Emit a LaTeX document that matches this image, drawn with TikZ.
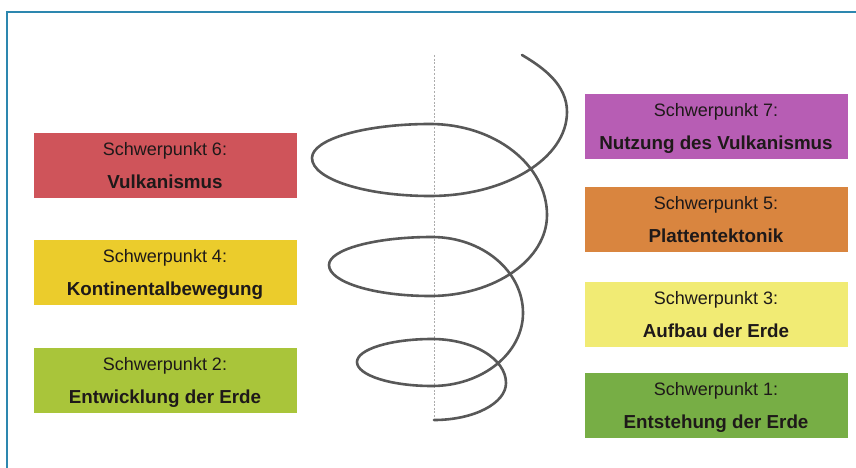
\documentclass[tikz,border=0pt]{standalone}
\usepackage{fontspec}
\setmainfont{Liberation Sans}
\definecolor{framecol}{RGB}{45,135,175}
\definecolor{cRed}{RGB}{207,84,90}
\definecolor{cYellow}{RGB}{235,204,44}
\definecolor{cLime}{RGB}{169,197,58}
\definecolor{cPurple}{RGB}{183,93,180}
\definecolor{cOrange}{RGB}{217,133,63}
\definecolor{cLightYellow}{RGB}{241,235,116}
\definecolor{cGreen}{RGB}{119,174,69}
\definecolor{txt}{RGB}{30,25,25}
\definecolor{helixcol}{RGB}{88,88,88}
\tikzset{
  topicbox/.style={rectangle, draw=none, fill=#1, minimum width=263pt, minimum height=65pt, inner sep=0pt},
  linea/.style={anchor=base, text=txt, font=\fontsize{18}{20}\selectfont, inner sep=0pt},
  lineb/.style={anchor=base, text=txt, font=\fontsize{18.8}{20}\selectfont\bfseries, inner sep=0pt},
  helixline/.style={draw=helixcol, line width=2.6pt, line cap=round},
  axisline/.style={draw=gray!65, line width=0.9pt, dash pattern=on 2pt off 1.6pt},
  frameline/.style={draw=framecol, line width=1.6pt}
}
\begin{document}
\begin{tikzpicture}[x=1pt,y=-1pt]
\useasboundingbox (0,0) rectangle (856,468);
% frame
\coordinate (fbl) at (7,468);
\coordinate (ftl) at (7,12);
\coordinate (ftr) at (856,12);
\draw[frameline] (fbl) -- (ftl) -- (ftr);
% axis
\coordinate (axtop) at (434,55);
\coordinate (axbot) at (434,422);
\draw[axisline] (axtop) -- (axbot);
% helix
\draw[helixline] (522,55)
  .. controls (544,68) and (567,85) .. (567,112)
  .. controls (567,158.4) and (505.6,196) .. (430,196)
  .. controls (364.9,196) and (312,179) .. (312,158)
  .. controls (312,139.2) and (364.9,124) .. (430,124)
  .. controls (494.6,124) and (547,164.8) .. (547,215)
  .. controls (547,259.7) and (494.6,296) .. (430,296)
  .. controls (374.2,296) and (329,282.1) .. (329,265)
  .. controls (329,249.5) and (375.1,237) .. (432,237)
  .. controls (482.2,237) and (523,271) .. (523,313)
  .. controls (523,353.3) and (482.2,386) .. (432,386)
  .. controls (390.6,386) and (357,375.2) .. (357,362)
  .. controls (357,349.3) and (390.6,339) .. (432,339)
  .. controls (472.8,339) and (506,358.7) .. (506,383)
  .. controls (506,403.4) and (473.7,420) .. (434,420);
% left boxes
\node[topicbox=cRed] (s6) at (165,165) {};
\node[linea] (s6a) at ([yshift=-23pt]s6.north) {Schwerpunkt 6:};
\node[lineb] (s6b) at ([yshift=-56pt]s6.north) {Vulkanismus};
\node[topicbox=cYellow] (s4) at (165,272.5) {};
\node[linea] (s4a) at ([yshift=-23pt]s4.north) {Schwerpunkt 4:};
\node[lineb] (s4b) at ([yshift=-56pt]s4.north) {Kontinentalbewegung};
\node[topicbox=cLime] (s2) at (165,380) {};
\node[linea] (s2a) at ([yshift=-23pt]s2.north) {Schwerpunkt 2:};
\node[lineb] (s2b) at ([yshift=-56pt]s2.north) {Entwicklung der Erde};
% right boxes
\node[topicbox=cPurple] (s7) at (716,126.5) {};
\node[linea] (s7a) at ([yshift=-23pt]s7.north) {Schwerpunkt 7:};
\node[lineb] (s7b) at ([yshift=-56pt]s7.north) {Nutzung des Vulkanismus};
\node[topicbox=cOrange] (s5) at (716,219.5) {};
\node[linea] (s5a) at ([yshift=-23pt]s5.north) {Schwerpunkt 5:};
\node[lineb] (s5b) at ([yshift=-56pt]s5.north) {Plattentektonik};
\node[topicbox=cLightYellow] (s3) at (716,314.5) {};
\node[linea] (s3a) at ([yshift=-23pt]s3.north) {Schwerpunkt 3:};
\node[lineb] (s3b) at ([yshift=-56pt]s3.north) {Aufbau der Erde};
\node[topicbox=cGreen] (s1) at (716,405) {};
\node[linea] (s1a) at ([yshift=-23pt]s1.north) {Schwerpunkt 1:};
\node[lineb] (s1b) at ([yshift=-56pt]s1.north) {Entstehung der Erde};
\end{tikzpicture}
\end{document}
